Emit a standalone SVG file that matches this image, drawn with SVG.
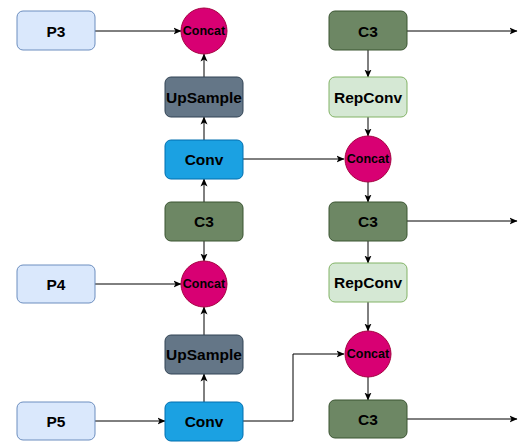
<svg xmlns="http://www.w3.org/2000/svg" width="527" height="442" viewBox="0 0 527 442">
  <defs>
    <marker id="arrow" viewBox="0 0 8 8" refX="7.5" refY="4" markerWidth="8" markerHeight="8" markerUnits="userSpaceOnUse" orient="auto">
      <path d="M0,0.5 L8,4 L0,7.5 L2,4 Z" fill="#000"/>
    </marker>
    <style>
      .lbl { font-family: "Liberation Sans", Arial, sans-serif; font-weight: bold; font-size: 15.5px; fill: #000; text-anchor: middle; dominant-baseline: central; }
      .cat { font-family: "Liberation Sans", Arial, sans-serif; font-weight: bold; font-size: 12.5px; fill: #000; text-anchor: middle; dominant-baseline: central; }
      .input { fill: #dae8fc; stroke: #6c8ebf; }
      .concat { fill: #d80073; stroke: #a50040; }
      .upsample { fill: #647687; stroke: #314354; }
      .conv { fill: #1ba1e2; stroke: #006eaf; }
      .c3 { fill: #6d8764; stroke: #3a5431; }
      .repconv { fill: #d5e8d4; stroke: #82b366; }
      .edge { fill: none; stroke: #000; stroke-width: 1; marker-end: url(#arrow); }
    </style>
  </defs>
  <rect width="527" height="442" fill="#fff"/>

  <!-- connectors -->
  <g id="connectors">
    <path class="edge" d="M95,31 H181"/>
    <path class="edge" d="M204,77 V54"/>
    <path class="edge" d="M204,140 V117"/>
    <path class="edge" d="M204,202 V179"/>
    <path class="edge" d="M204,241 V261"/>
    <path class="edge" d="M204,335 V307"/>
    <path class="edge" d="M204,402 V374"/>
    <path class="edge" d="M95,284 H181"/>
    <path class="edge" d="M95,421 H165"/>
    <path class="edge" d="M243,159 H344"/>
    <path class="edge" d="M243,421 H293 V354 H344"/>
    <path class="edge" d="M368,50 V77"/>
    <path class="edge" d="M368,117 V136"/>
    <path class="edge" d="M368,182 V202"/>
    <path class="edge" d="M368,241 V263"/>
    <path class="edge" d="M368,302 V331"/>
    <path class="edge" d="M368,377 V400"/>
    <path class="edge" d="M407,31 H517"/>
    <path class="edge" d="M407,221 H517"/>
    <path class="edge" d="M407,419 H517"/>
  </g>

  <!-- inputs -->
  <g id="p3"><rect class="input" x="17" y="11" width="78" height="39" rx="6"/><text class="lbl" x="56" y="31">P3</text></g>
  <g id="p4"><rect class="input" x="17" y="265" width="78" height="38" rx="6"/><text class="lbl" x="56" y="284">P4</text></g>
  <g id="p5"><rect class="input" x="17" y="402" width="78" height="38" rx="6"/><text class="lbl" x="56" y="421">P5</text></g>

  <!-- top-down path -->
  <g id="concat1"><circle class="concat" cx="204" cy="31" r="23"/><text class="cat" x="204" y="31">Concat</text></g>
  <g id="upsample1"><rect class="upsample" x="165" y="77" width="78" height="40" rx="6"/><text class="lbl" x="204" y="97">UpSample</text></g>
  <g id="conv1"><rect class="conv" x="165" y="140" width="78" height="39" rx="6"/><text class="lbl" x="204" y="159.5">Conv</text></g>
  <g id="c3a"><rect class="c3" x="165" y="202" width="78" height="39" rx="6"/><text class="lbl" x="204" y="221.5">C3</text></g>
  <g id="concat2"><circle class="concat" cx="204" cy="284" r="23"/><text class="cat" x="204" y="284">Concat</text></g>
  <g id="upsample2"><rect class="upsample" x="165" y="335" width="78" height="39" rx="6"/><text class="lbl" x="204" y="354.5">UpSample</text></g>
  <g id="conv2"><rect class="conv" x="165" y="402" width="78" height="39" rx="6"/><text class="lbl" x="204" y="421.5">Conv</text></g>

  <!-- bottom-up path -->
  <g id="c3b"><rect class="c3" x="329" y="11" width="78" height="39" rx="6"/><text class="lbl" x="368" y="31">C3</text></g>
  <g id="repconv1"><rect class="repconv" x="329" y="77" width="78" height="40" rx="6"/><text class="lbl" x="368" y="97">RepConv</text></g>
  <g id="concat3"><circle class="concat" cx="368" cy="159" r="23"/><text class="cat" x="368" y="159">Concat</text></g>
  <g id="c3c"><rect class="c3" x="329" y="202" width="78" height="39" rx="6"/><text class="lbl" x="368" y="221.5">C3</text></g>
  <g id="repconv2"><rect class="repconv" x="329" y="263" width="78" height="39" rx="6"/><text class="lbl" x="368" y="282.5">RepConv</text></g>
  <g id="concat4"><circle class="concat" cx="368" cy="354" r="23"/><text class="cat" x="368" y="354">Concat</text></g>
  <g id="c3d"><rect class="c3" x="329" y="400" width="78" height="38" rx="6"/><text class="lbl" x="368" y="419">C3</text></g>
</svg>
